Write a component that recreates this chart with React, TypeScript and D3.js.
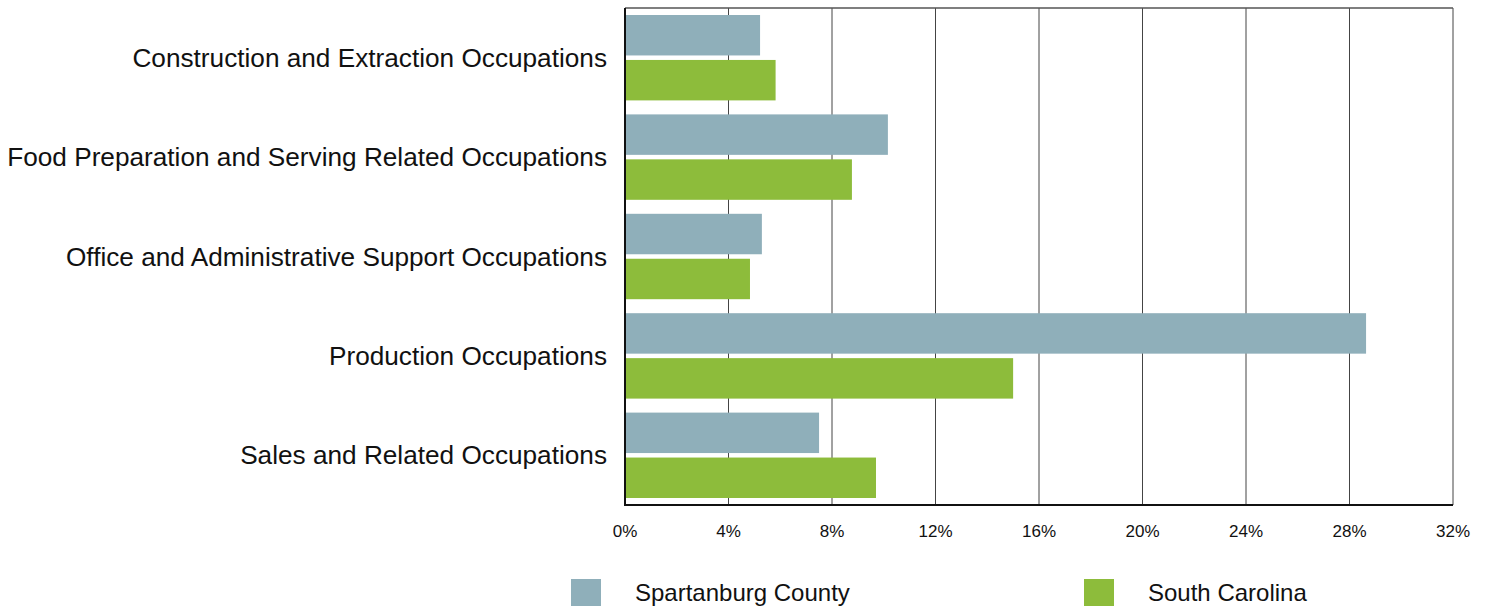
import React, { useEffect, useRef } from 'react';
import * as d3 from 'd3';

const categories = [
  'Construction and Extraction Occupations',
  'Food Preparation and Serving Related Occupations',
  'Office and Administrative Support Occupations',
  'Production Occupations',
  'Sales and Related Occupations',
];
const seriesNames = ['Spartanburg County', 'South Carolina'];
const spartanburg = [5.22, 10.16, 5.29, 28.64, 7.5];
const southCarolina = [5.82, 8.77, 4.83, 15.0, 9.7];
const xTicks = [0, 4, 8, 12, 16, 20, 24, 28, 32];
const colors = ['#8fafba', '#8dbc3b'];

const App: React.FC = () => {
  const ref = useRef<SVGSVGElement>(null);

  useEffect(() => {
    const svg = d3.select(ref.current);
    svg.selectAll('*').remove();

    const left = 625;
    const right = 1453;
    const top = 8;
    const bottom = 505;
    const font = '"Liberation Sans", Arial, sans-serif';

    const x = d3.scaleLinear().domain([0, 32]).range([left, right]);
    const y = d3.scaleBand<string>().domain(categories).range([top, bottom]).padding(0);
    const inner = d3
      .scaleBand<string>()
      .domain(seriesNames)
      .range([7, y.bandwidth() - 7])
      .paddingInner(0.1);

    const values = [spartanburg, southCarolina];

    // grid lines
    svg
      .append('g')
      .selectAll('line')
      .data(xTicks.slice(1))
      .join('line')
      .attr('x1', (d) => x(d))
      .attr('x2', (d) => x(d))
      .attr('y1', top)
      .attr('y2', bottom)
      .attr('stroke', '#444')
      .attr('stroke-width', 1);

    svg
      .append('line')
      .attr('x1', left)
      .attr('x2', right)
      .attr('y1', top)
      .attr('y2', top)
      .attr('stroke', '#555')
      .attr('stroke-width', 1.5);

    // bars
    seriesNames.forEach((s, si) => {
      svg
        .append('g')
        .selectAll('rect')
        .data(categories)
        .join('rect')
        .attr('x', x(0))
        .attr('y', (c) => (y(c) ?? 0) + (inner(s) ?? 0))
        .attr('width', (c, i) => x(values[si][i]) - x(0))
        .attr('height', inner.bandwidth())
        .attr('fill', colors[si]);
    });

    // axes borders
    svg
      .append('line')
      .attr('x1', left)
      .attr('x2', right)
      .attr('y1', bottom)
      .attr('y2', bottom)
      .attr('stroke', '#111')
      .attr('stroke-width', 2);
    svg
      .append('line')
      .attr('x1', left)
      .attr('x2', left)
      .attr('y1', top)
      .attr('y2', bottom + 1)
      .attr('stroke', '#111')
      .attr('stroke-width', 2);

    // category labels
    svg
      .append('g')
      .selectAll('text')
      .data(categories)
      .join('text')
      .attr('x', 607)
      .attr('y', (c) => (y(c) ?? 0) + y.bandwidth() / 2)
      .attr('dy', '0.35em')
      .attr('text-anchor', 'end')
      .attr('font-family', font)
      .attr('font-size', 26.2)
      .attr('fill', '#111')
      .text((c) => c);

    // tick labels
    svg
      .append('g')
      .selectAll('text')
      .data(xTicks)
      .join('text')
      .attr('x', (d) => x(d))
      .attr('y', 537)
      .attr('text-anchor', 'middle')
      .attr('font-family', font)
      .attr('font-size', 17)
      .attr('fill', '#111')
      .text((d) => `${d}%`);

    // legend
    const legendX = [571, 1084];
    const lg = svg
      .append('g')
      .selectAll('g')
      .data(seriesNames)
      .join('g')
      .attr('transform', (d, i) => `translate(${legendX[i]},579)`);
    lg.append('rect')
      .attr('width', 30)
      .attr('height', 30)
      .attr('fill', (d, i) => colors[i]);
    lg.append('text')
      .attr('x', 64)
      .attr('y', 22)
      .attr('font-family', font)
      .attr('font-size', 24)
      .attr('fill', '#111')
      .text((d) => d);
  }, []);

  return (
    <div style={{ position: 'absolute', left: 0, top: 0, width: 1486, height: 606, background: '#fff' }}>
      <svg ref={ref} width={1486} height={606} style={{ display: 'block' }} />
    </div>
  );
};

export default App;
